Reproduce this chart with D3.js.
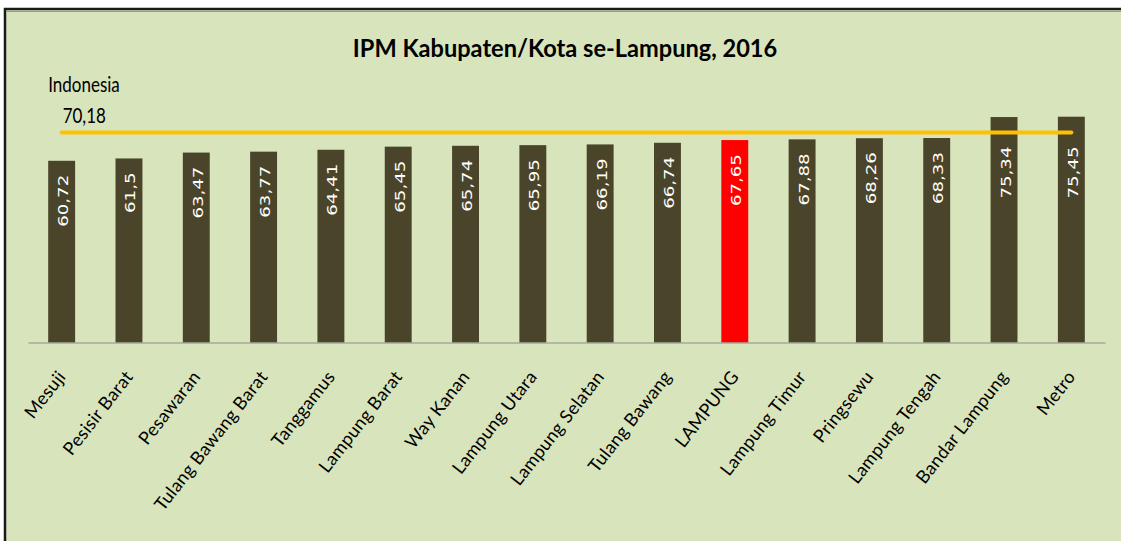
<!DOCTYPE html>
<html>
<head>
<meta charset="utf-8">
<script src="https://cdn.jsdelivr.net/npm/d3@7"></script>
<style>
	body { margin: 0; background: #ffffff; }
	#chart { width: 1121px; height: 541px; overflow: hidden; }
</style>
</head>
<body>
<div id="chart"></div>
<script>

var regions = [
	'Mesuji', 'Pesisir Barat', 'Pesawaran', 'Tulang Bawang Barat', 'Tanggamus',
	'Lampung Barat', 'Way Kanan', 'Lampung Utara', 'Lampung Selatan', 'Tulang Bawang',
	'LAMPUNG', 'Lampung Timur', 'Pringsewu', 'Lampung Tengah', 'Bandar Lampung', 'Metro'
]

var ipm = [
	60.72, 61.5, 63.47, 63.77, 64.41,
	65.45, 65.74, 65.95, 66.19, 66.74,
	67.65, 67.88, 68.26, 68.33, 75.34, 75.45
]

var highlight = 'LAMPUNG'

var national_label = 'Indonesia'
var national_value = 70.18

var title = 'IPM Kabupaten/Kota se-Lampung, 2016'

var Chart = ((document, window, d3) => {

	var width = 1121,
		height = 541,
		stretch = 1.3

	var comma = v => String(v).replace('.', ',')

	var svg = d3.select('#chart')
		.append('svg')
		.attr('width', width)
		.attr('height', height)

	// panel background + frame (cropped at right / bottom like the source)
	svg.append('rect')
		.attr('x', 5)
		.attr('y', 9)
		.attr('width', width + 10)
		.attr('height', height + 10)
		.attr('fill', '#d8e4bc')
		.attr('stroke', '#1a1a1a')
		.attr('stroke-width', 2.5)

	svg.append('line')
		.attr('x1', 7)
		.attr('x2', width)
		.attr('y1', 11.5)
		.attr('y2', 11.5)
		.attr('stroke', '#9a9a9a')
		.attr('stroke-width', 1)

	var x = d3.scaleBand()
		.domain(regions)
		.range([28, 1105])
		.paddingInner(0.6)
		.paddingOuter(0.3)

	var y = d3.scaleLinear()
		.domain([0, 80])
		.range([342.5, 103.1])

	var cx = d => x(d) + x.bandwidth() / 2

	svg.append('text')
		.attr('transform', 'translate(565,57) scale(1,1.08)')
		.attr('text-anchor', 'middle')
		.attr('font-family', 'Lato, sans-serif')
		.attr('font-weight', 'bold')
		.attr('font-size', 23.6)
		.attr('fill', '#000')
		.text(title)

	var bars = svg.append('g')
		.selectAll('rect')
		.data(regions)
		.join('rect')
			.attr('x', d => x(d))
			.attr('width', x.bandwidth())
			.attr('y', (d, i) => y(ipm[i]))
			.attr('height', (d, i) => y(0) - y(ipm[i]))
			.attr('fill', d => d === highlight ? '#ff0000' : '#4a452a')

	svg.append('g')
		.attr('transform', 'translate(0,' + y(0) + ')')
		.call(d3.axisBottom(x).tickSize(0).tickFormat(''))
		.call(g => g.select('.domain')
			.attr('stroke', '#8c8c8c')
			.attr('stroke-width', 1.2))

	// value labels inside bars, pushed below the national line when they would cross it
	svg.append('g')
		.selectAll('text')
		.data(regions)
		.join('text')
			.attr('transform', (d, i) => 'translate(' + (cx(d) + 6.5) + ',' +
				(Math.max(y(ipm[i]), y(national_value)) + 14) + ') scale(1,' + stretch + ') rotate(-90)')
			.attr('text-anchor', 'end')
			.attr('font-family', 'DejaVu Sans, sans-serif')
			.attr('font-size', 14)
			.attr('fill', '#ffffff')
			.text((d, i) => comma(ipm[i]))

	svg.append('g')
		.selectAll('text')
		.data(regions)
		.join('text')
			.attr('transform', d => 'translate(' + (cx(d) + 5) + ',377) rotate(-52)')
			.attr('text-anchor', 'end')
			.attr('font-family', 'Lato, sans-serif')
			.attr('font-size', 18)
			.attr('letter-spacing', 0.3)
			.attr('fill', '#000')
			.text(d => d)

	svg.append('line')
		.attr('x1', cx(regions[0]))
		.attr('x2', cx(regions[regions.length - 1]))
		.attr('y1', y(national_value))
		.attr('y2', y(national_value))
		.attr('stroke', '#ffc000')
		.attr('stroke-width', 4)
		.attr('stroke-linecap', 'round')

	svg.append('text')
		.attr('transform', 'translate(' + x(regions[0]) + ',92) scale(1,1.2)')
		.attr('font-family', 'Lato, sans-serif')
		.attr('font-size', 17)
		.attr('fill', '#000')
		.text(national_label)

	svg.append('text')
		.attr('transform', 'translate(' + (cx(regions[0]) + 1) + ',' + (y(national_value) - 9) + ') scale(1,1.2)')
		.attr('font-family', 'Lato, sans-serif')
		.attr('font-size', 17)
		.attr('fill', '#000')
		.text(comma(national_value))

	return {}

})(document, window, d3)

</script>
</body>
</html>
